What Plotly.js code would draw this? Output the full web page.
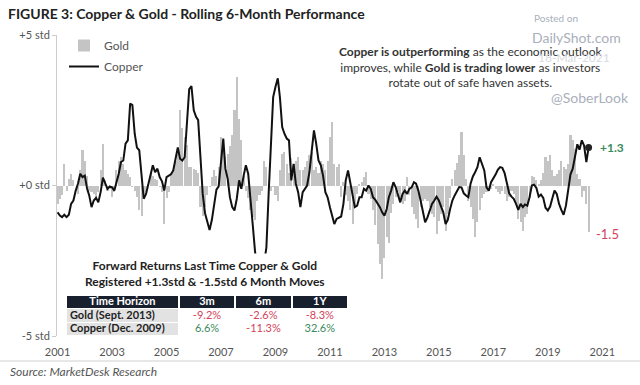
<!DOCTYPE html>
<html><head><meta charset="utf-8">
<script src="https://cdn.plot.ly/plotly-3.0.1.min.js"></script>
<style>html,body{margin:0;padding:0;background:#fff}#chart{width:640px;height:385px}</style>
</head><body><div id="chart"></div>
<script>
// ---- data (monthly) ----
var startYear = 2001;
var copper = [-0.89,-1.0,-1.05,-0.97,-1.05,-0.97,-0.61,-0.5,-0.17,0.06,0.39,0.28,
0.33,-0.11,-0.33,-0.72,-0.5,-0.41,-0.56,-0.22,0.26,0.06,-0.11,-0.03,
-0.06,-0.17,0.06,0.39,0.78,0.83,1.39,1.5,2.72,2.67,1.72,1.26,
1.17,0.22,-0.44,-0.28,0.06,0.39,0.67,0.44,0.56,0.28,0.14,-0.17,
0.28,0.33,0.37,0.5,0.94,1.26,0.89,0.83,0.94,2.17,3.2,3.3,
2.5,2.28,2.17,0.94,-0.28,-0.92,-1.17,-1.48,-1.14,-0.7,-0.14,-0.03,
0.83,1.56,0.56,0.22,-0.39,-0.72,-0.83,-0.44,0.17,-0.11,0.33,0.67,
0.39,-0.61,-1.28,-2.17,-2.8,-3.0,-2.9,-2.6,-2.06,-0.28,1.28,2.94,
3.28,3.56,2.94,1.94,1.72,1.56,1.5,0.17,0.72,0.06,-0.22,-0.72,
-0.22,-0.11,0,0.44,1.06,1.83,1.39,0.83,0.67,0.33,-0.22,-0.39,
-0.72,-1.0,-1.28,-1.11,-1.08,-1.03,-0.61,0.17,0.5,0.11,-0.28,-0.72,
-0.67,-0.39,-0.39,-0.11,-0.17,0,-0.11,-0.39,-0.48,-0.59,-0.72,-0.89,
-1.0,-0.78,-0.39,-0.17,0.11,-0.06,-0.28,-0.56,-0.28,-0.17,-0.28,-0.11,
-0.06,0.11,0.06,-0.17,-0.5,-0.94,-1.22,-1.06,-0.83,-0.61,-0.5,-0.37,
-0.5,-0.7,-0.89,-1.28,-1.14,-0.78,-0.5,-0.33,-0.2,-0.05,-0.06,-0.26,
-0.33,-0.39,0.06,0.3,0.44,0.61,0.94,0.72,0.5,-0.06,-0.17,0.11,
0.22,0.37,0.52,0.61,0.59,0.41,0.08,-0.26,-0.37,-0.44,-0.61,-0.81,
-0.61,-0.72,-0.63,-0.67,-0.39,0,0.03,-0.08,-0.37,-0.3,-0.41,-0.74,
-0.83,-0.7,-0.44,-0.17,-0.28,-0.61,-0.81,-0.97,-0.67,-0.22,0.37,0.56,
1.0,1.37,1.19,1.5,1.33,0.78,1.26];
var gold = [-0.6,-0.45,-0.3,0.72,-0.17,0.2,0.39,0.17,0,-0.28,0.5,1.17,
0.83,0.33,-0.17,-0.22,-0.28,-0.39,-0.22,0.5,1.39,0.17,-0.17,-0.11,
-0.39,-0.22,0.5,0.83,0.94,0.72,0.5,0.39,0.28,-0.05,-0.17,-0.39,
-0.8,-1.0,-0.28,-0.22,0.05,0.44,0.33,0.22,0.17,-0.05,-0.22,-1.28,
-0.4,-0.2,0.4,0.5,0.83,1.06,2.5,1.9,1.6,1.35,0.6,0.6,
0.55,0.5,0.4,-0.7,-1.0,-0.7,-0.3,-0.05,0.28,0.5,0.3,0.6,
1.6,1.3,0.95,1.05,1.3,1.67,2.5,3.6,2.2,1.5,0.3,-0.17,
-0.4,-0.83,-1.05,-1.15,-0.5,-0.3,-0.17,0.83,0.6,0.1,-0.17,-0.05,
-0.3,-0.5,0.5,1.06,1.1,0.7,0.4,0.9,0.7,0.83,0.94,0.5,
0.5,0.6,0.83,1.0,1.1,0.5,0.6,0.4,0.83,0.72,0.5,0.83,
1.6,2.1,0.72,0.6,0.72,-0.39,0.1,-0.3,-0.5,-0.83,-1.28,-0.72,
-0.28,0.05,0.11,0.28,0.44,-0.28,-0.45,-0.8,-1.3,-1.95,-2.6,-3.1,
-2.4,-1.72,-1.9,-0.9,-0.6,-0.39,-0.2,-0.5,-0.6,-0.5,0.28,-0.3,
-0.72,-0.94,-1.1,-1.4,-0.72,-0.5,-0.45,-0.5,-0.72,-0.94,-1.06,-1.6,
-1.17,-0.94,-0.72,-1.5,-0.94,-0.4,0.2,0.5,0.75,1.0,1.78,1.0,
0.2,-0.5,-0.72,-1.1,-1.72,-1.2,-0.8,-0.4,-0.28,-0.22,-0.05,-0.1,
0.05,-0.1,-0.2,-0.28,-0.17,-0.28,-0.5,-0.39,-0.17,-0.28,-0.6,-1.1,
-1.2,-1.5,-1.06,-0.94,-0.4,0.33,0.28,0.17,0.05,0.17,0.4,0.94,
0.83,1.0,0.5,0.3,0.39,0.5,0.83,0.6,0.55,0.7,1.67,1.5,
1.2,0.39,0.2,-0.39,-0.17,-0.6,-1.55];
var yTickVals = [5, 0, -5];
var yTickText = ['+5 std', '+0 std', '-5 std'];
var xTickYears = [2001,2003,2005,2007,2009,2011,2013,2015,2017,2019,2021];
var headerFirst = 'Time Horizon';
var horizons = ['3m', '6m', '1Y'];
var rowLabels = ['Gold (Sept. 2013)', 'Copper (Dec. 2009)'];
var goldFwd = [-9.2, -2.6, -8.3];
var copperFwd = [6.6, -11.3, 32.6];
var lastCopperLabel = '+1.3';
var lastGoldLabel = '-1.5';

// ---- helpers ----
function pad(n){return (n<10?'0':'')+n;}
var dates = copper.map(function(_, i){
  var y = startYear + Math.floor(i/12), m = i%12 + 1;
  return y + '-' + pad(m) + '-01';
});
var L = 57, T = 35, W = 553, H = 301;
function px(x){return (x - L)/W;}
function py(y){return (T + H - y)/H;}
var FONT = 'Lato, "Open Sans", sans-serif';
var GREEN = '#3a8a5c', RED = '#d2435a';
function fmt(v){return v.toFixed(1) + '%';}
function col(v){return v < 0 ? RED : GREEN;}
function note(x, y, text, size, color, extra){
  var a = {xref:'paper', yref:'paper', x:px(x), y:py(y), xanchor:'center', yanchor:'middle',
    showarrow:false, text:text, font:{family:FONT, size:size, color:color}};
  for (var k in (extra||{})) a[k] = extra[k];
  return a;
}

// ---- table grid (column 0 is twice as wide) ----
var colEdges = [0, 2, 3, 4, 5];
var rowEdges = [0, 1, 2, 3];            // bottom: copper row, middle: gold row, top: header
var rowsData = [copperFwd, goldFwd];     // bottom-to-top order
var rowsLabel = [rowLabels[1], rowLabels[0]];
var zCells = [[1,0,0,0],[1,0,0,0],[2,2,2,2]];
var tx = [], ty = [], tt = [], tc = [], tp = [];
var headers = [headerFirst].concat(horizons);
headers.forEach(function(h, c){
  tx.push((colEdges[c]+colEdges[c+1])/2); ty.push(2.5); tt.push('<b>'+h+'</b>'); tc.push('#ffffff'); tp.push('middle center');
});
rowsData.forEach(function(vals, r){
  tx.push(0.07); ty.push(r+0.5); tt.push('<b>'+rowsLabel[r]+'</b>'); tc.push('#222222'); tp.push('middle right');
  vals.forEach(function(v, k){
    tx.push((colEdges[k+1]+colEdges[k+2])/2); ty.push(r+0.5); tt.push(fmt(v)); tc.push(col(v)); tp.push('middle center');
  });
});

var n = copper.length;
var traces = [
  {type:'bar', x:dates, y:gold, name:'Gold', marker:{color:'#c4c4c4', line:{width:0}},
   legendgroup:'g', hoverinfo:'skip'},
  {type:'scatter', mode:'lines', x:dates, y:copper, name:'Copper',
   line:{color:'#111', width:2}, legendgroup:'c', hoverinfo:'skip'},
  {type:'scatter', mode:'markers', x:[dates[n-1]], y:[copper[n-1]], showlegend:false,
   marker:{color:'#222', size:7}, hoverinfo:'skip'},
  {type:'heatmap', xaxis:'x2', yaxis:'y2', x:colEdges, y:rowEdges, z:zCells, zmin:0, zmax:2,
   colorscale:[[0,'#ffffff'],[0.5,'#e2e2e2'],[1,'#18202e']], showscale:false, xgap:2, ygap:1,
   hoverinfo:'skip', showlegend:false},
  {type:'scatter', mode:'text', xaxis:'x2', yaxis:'y2', x:tx, y:ty, text:tt, textposition:tp,
   textfont:{family:FONT, size:11, color:tc}, cliponaxis:false, showlegend:false, hoverinfo:'skip'}
];

var annotations = [
  note(470, 67, '<b>Copper is outperforming</b> as the economic outlook<br>improves, while <b>Gold is trading lower</b> as investors<br>rotate out of safe haven assets.', 12, '#333', {align:'center'}),
  note(556, 18, 'Posted on', 10, '#a9afbb'),
  note(576, 38, 'DailyShot.com', 14, '#a9afbb'),
  note(574, 58, '18-Mar-2021', 12, '#d8dbe0'),
  note(590, 97, '@SoberLook', 14, '#a9afbb'),
  note(612, 147, '<b>'+lastCopperLabel+'</b>', 12, GREEN),
  note(607, 234, lastGoldLabel, 13, RED),
  note(205, 273, '<b>Forward Returns Last Time Copper &amp; Gold<br>Registered +1.3std &amp; -1.5std 6 Month Moves</b>', 12, '#222',
       {align:'center', bgcolor:'#ffffff', borderpad:4}),
  note(8, 372, '<i>Source: MarketDesk Research</i>', 12, '#555', {xanchor:'left'})
];

var shapes = [
  {type:'line', xref:'paper', yref:'paper', x0:px(0), x1:px(640), y0:py(361), y1:py(361),
   line:{color:'#cfcfcf', width:1}}
];

var hidden = {visible:false, fixedrange:true};
var layout = {
  width:640, height:385, margin:{l:L, r:640-L-W, t:T, b:385-T-H},
  paper_bgcolor:'#fff', plot_bgcolor:'rgba(0,0,0,0)',
  font:{family:FONT, color:'#555'},
  title:{text:'<b>FIGURE 3: Copper &amp; Gold - Rolling 6-Month Performance</b>',
    x:8/640, xanchor:'left', y:1-14/385, yanchor:'middle', font:{family:FONT, size:14, color:'#222'}},
  bargap:0,
  showlegend:true,
  legend:{x:px(64), y:py(31), xanchor:'left', yanchor:'top', bgcolor:'rgba(0,0,0,0)',
    font:{family:FONT, size:12, color:'#555'}, traceorder:'grouped', tracegroupgap:2, itemwidth:30},
  xaxis:{type:'date', range:['2000-12-24','2021-04-14'], showgrid:false, zeroline:false, showline:false,
    tickvals:xTickYears.map(function(y){return y+'-01-01';}), ticktext:xTickYears.map(String),
    ticks:'outside', ticklen:6, tickcolor:'rgba(0,0,0,0)', tickfont:{family:FONT, size:11, color:'#555'}},
  yaxis:{range:[-5,5], showgrid:false, zeroline:false, showline:true, linecolor:'#cccccc', linewidth:1,
    tickvals:yTickVals, ticktext:yTickText, ticks:'outside', ticklen:4, tickcolor:'#cccccc',
    tickfont:{family:FONT, size:11, color:'#555'}},
  xaxis2:Object.assign({domain:[px(66), px(348)], range:[0,5], anchor:'y2'}, hidden),
  yaxis2:Object.assign({domain:[0, py(296)], range:[0,3], anchor:'x2'}, hidden),
  annotations:annotations, shapes:shapes
};
Plotly.newPlot('chart', traces, layout, {staticPlot:true, displayModeBar:false});
</script></body></html>
